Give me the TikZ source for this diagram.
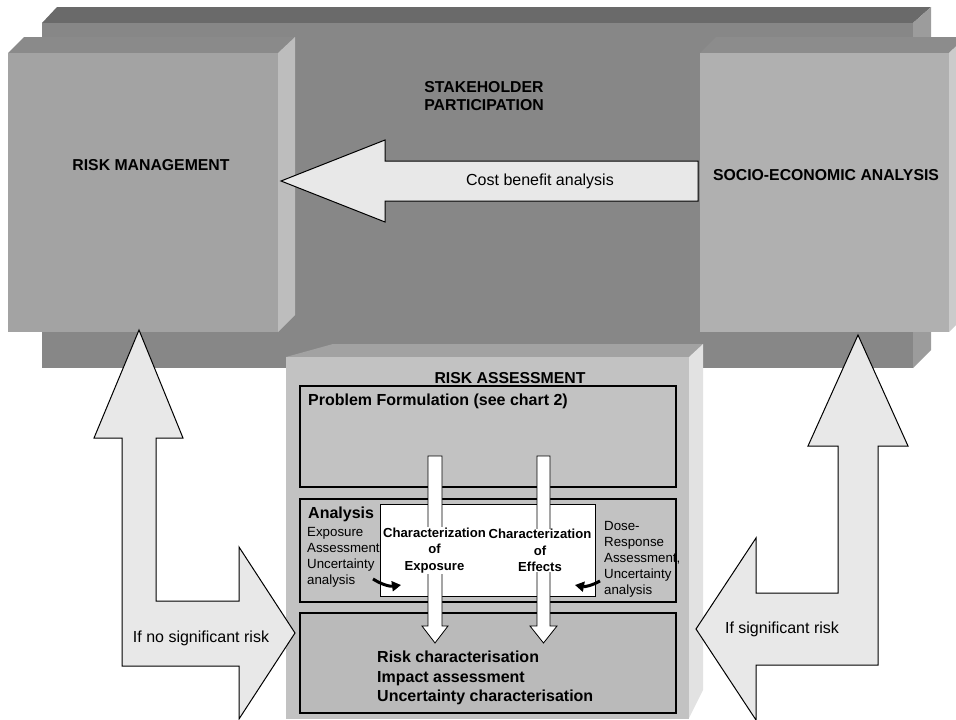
\documentclass[tikz,border=0pt]{standalone}
\usepackage{fontspec}
\setmainfont{Liberation Sans}
\usetikzlibrary{arrows.meta}
\definecolor{slabtop}{HTML}{6A6A6A}
\definecolor{slabfront}{HTML}{878787}
\definecolor{slabside}{HTML}{9C9C9C}
\definecolor{rmtop}{HTML}{8A8A8A}
\definecolor{rmfront}{HTML}{A3A3A3}
\definecolor{rmside}{HTML}{BDBDBD}
\definecolor{setop}{HTML}{8C8C8C}
\definecolor{sefront}{HTML}{B0B0B0}
\definecolor{seside}{HTML}{CBCBCB}
\definecolor{ratop}{HTML}{A2A2A2}
\definecolor{rafront}{HTML}{C2C2C2}
\definecolor{raside}{HTML}{E2E2E2}
\definecolor{rcfill}{HTML}{BABABA}
\definecolor{arrfill}{HTML}{E8E8E8}
\begin{document}
\begin{tikzpicture}[x=1pt,y=-1pt,
  bigbold/.style={font=\fontsize{15.8}{18.5}\selectfont\bfseries, align=center, inner sep=0pt},
  regtext/.style={font=\fontsize{16}{19}\selectfont, inner sep=0pt},
  boldleft/.style={font=\fontsize{16}{19.5}\selectfont\bfseries, align=left, inner sep=0pt, anchor=west},
  smalltext/.style={font=\fontsize{13.3}{16}\selectfont, align=left, inner sep=0pt, anchor=west},
  charbox/.style={font=\fontsize{13.1}{16.5}\selectfont\bfseries, align=center, inner sep=0.5pt, fill=white},
  blockarrow/.style={fill=arrfill, draw=black, line width=1pt, line join=miter},
  whitearrow/.style={fill=white, draw=black, line width=0.8pt},
  innerbox/.style={draw=black, line width=2.5pt, anchor=north west, inner sep=0pt, outer sep=0pt},
  curvearrow/.style={line width=3pt, -{Triangle[length=9pt,width=10pt]}}
]
\useasboundingbox (0,0) rectangle (956,720);
\clip (0,0) rectangle (956,720);

% Stakeholder slab
\fill[slabtop] (42,23) -- (57,7) -- (931,7) -- (913,23) -- cycle;
\fill[slabfront] (42,23) rectangle (913,368);
\fill[slabside] (913,23) -- (931,7) -- (931,350) -- (913,368) -- cycle;
\node[bigbold] (stake) at (484,96) {STAKEHOLDER\\PARTICIPATION};

% Risk management box
\fill[rmtop] (8,53) -- (24,37) -- (295,37) -- (278,53) -- cycle;
\fill[rmfront] (8,53) rectangle (278,332);
\fill[rmside] (278,53) -- (295,37) -- (295,315) -- (278,332) -- cycle;
\node[bigbold] (rm) at (151,165) {RISK MANAGEMENT};

% Socio-economic box
\fill[setop] (700,53) -- (716,37) -- (966,37) -- (949,53) -- cycle;
\fill[sefront] (700,53) rectangle (949,332);
\fill[seside] (949,53) -- (966,37) -- (966,315) -- (949,332) -- cycle;
\node[bigbold] (sea) at (826,175) {SOCIO-ECONOMIC ANALYSIS};

% Cost benefit arrow
\draw[blockarrow] (281,181) -- (385,140) -- (385,161) -- (698,161) -- (698,201) -- (385,201) -- (385,222) -- cycle;
\node[regtext] (cba) at (540,181) {Cost benefit analysis};

% Risk assessment box
\fill[ratop] (286,357) -- (333,344) -- (703,344) -- (689,357) -- cycle;
\fill[rafront] (286,357) rectangle (689,719);
\fill[raside] (689,357) -- (703,344) -- (703,690) -- (689,718) -- cycle;
\node[bigbold] (ra) at (510,378) {RISK ASSESSMENT};

% Inner boxes
\node[innerbox, fill=rafront, minimum width=376pt, minimum height=101pt] (pf) at (300,386) {};
\node[innerbox, fill=rafront, minimum width=376pt, minimum height=103pt] (an) at (300,499) {};
\node[innerbox, fill=rcfill, minimum width=376pt, minimum height=100pt] (rc) at (300,613) {};

\node[boldleft] (pftext) at (308,401) {Problem Formulation (see chart 2)};
\node[boldleft] (antext) at (308,514) {Analysis};
\node[smalltext] (expo) at (307,557) {Exposure\\Assessment,\\Uncertainty\\analysis};
\node[smalltext] (dose) at (604,559) {Dose-\\Response\\Assessment,\\Uncertainty\\analysis};

% White characterization box
\node[draw=black, line width=0.6pt, fill=white, anchor=north west, inner sep=0pt, outer sep=0pt, minimum width=215pt, minimum height=92pt] (wb) at (380,504) {};

% Vertical white arrows
\draw[whitearrow] (428,456) -- (442,456) -- (442,626) -- (448,626) -- (435,643) -- (422,626) -- (428,626) -- cycle;
\draw[whitearrow] (537,456) -- (550,456) -- (550,626) -- (557,626) -- (543.5,643) -- (530,626) -- (537,626) -- cycle;

\node[charbox] (cexp) at (434.5,550.5) {Characterization\\of\\Exposure};
\node[charbox] (ceff) at (540,550.5) {Characterization\\of\\Effects};

% small curved arrows
\coordinate (la1) at (373,579);
\coordinate (la2) at (401,585);
\coordinate (ra1) at (600,581);
\coordinate (ra2) at (575,585);
\draw[curvearrow] (la1) to[bend right=20] (la2);
\draw[curvearrow] (ra1) to[bend left=20] (ra2);

\node[boldleft] (rctext) at (377,678) {Risk characterisation\\Impact assessment\\Uncertainty characterisation};

% Left L-arrow
\draw[blockarrow] (139,330) -- (183,438) -- (156,438) -- (156,601) -- (239,601) -- (239,547) -- (295,633) -- (239,719) -- (239,666) -- (122,666) -- (122,438) -- (94,438) -- cycle;
\node[regtext] (nosig) at (201,638) {If no significant risk};

% Right L-arrow
\draw[blockarrow] (858,335) -- (908,446) -- (878,446) -- (878,665) -- (756,665) -- (756,720) -- (696,629) -- (756,538) -- (756,593) -- (838,593) -- (838,446) -- (808,446) -- cycle;
\node[regtext] (sig) at (782,629) {If significant risk};
\end{tikzpicture}
\end{document}
